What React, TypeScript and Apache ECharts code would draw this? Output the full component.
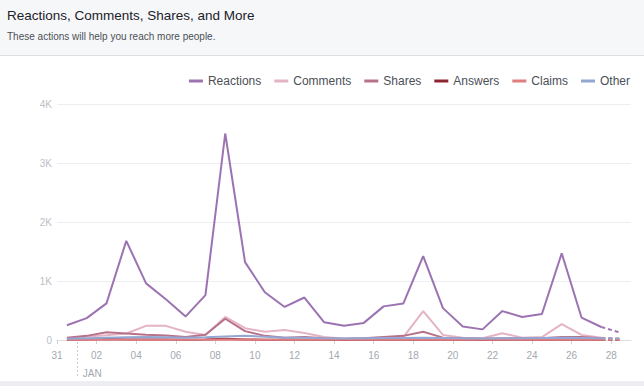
import { useEffect, useRef } from 'react';
import * as echarts from 'echarts';

const dates = [
  'Dec 31', 'Jan 01', 'Jan 02', 'Jan 03', 'Jan 04', 'Jan 05', 'Jan 06', 'Jan 07', 'Jan 08', 'Jan 09',
  'Jan 10', 'Jan 11', 'Jan 12', 'Jan 13', 'Jan 14', 'Jan 15', 'Jan 16', 'Jan 17', 'Jan 18', 'Jan 19',
  'Jan 20', 'Jan 21', 'Jan 22', 'Jan 23', 'Jan 24', 'Jan 25', 'Jan 26', 'Jan 27', 'Jan 28',
];
const tickLabels = ['31', '02', '04', '06', '08', '10', '12', '14', '16', '18', '20', '22', '24', '26', '28'];

const reactions = [250, 370, 620, 1680, 960, 690, 400, 760, 3500, 1320, 810, 560, 720, 300, 240, 290, 570, 620, 1420, 540, 230, 180, 490, 390, 440, 1470, 380, 220, 120];
const comments = [30, 60, 80, 110, 240, 240, 140, 85, 390, 200, 140, 170, 120, 50, 20, 30, 40, 50, 490, 85, 40, 30, 115, 40, 50, 270, 85, 40, 20];
const shares = [40, 70, 130, 110, 90, 75, 50, 90, 360, 150, 70, 40, 50, 30, 20, 30, 50, 70, 140, 40, 30, 20, 30, 30, 30, 50, 50, 30, 20];
const answers = [5, 10, 15, 10, 10, 8, 5, 10, 20, 10, 5, 5, 5, 3, 2, 3, 5, 5, 10, 5, 3, 2, 3, 3, 3, 5, 5, 3, 2];
const claims = [4, 5, 6, 5, 6, 5, 4, 5, 8, 6, 5, 4, 5, 4, 3, 4, 5, 5, 6, 5, 4, 3, 4, 4, 4, 5, 5, 4, 3];
const other = [20, 30, 40, 45, 50, 45, 40, 45, 60, 70, 55, 40, 40, 30, 25, 30, 35, 35, 40, 35, 30, 25, 30, 30, 35, 40, 35, 30, 25];

const seriesNames = ['Reactions', 'Comments', 'Shares', 'Answers', 'Claims', 'Other'];
const seriesColors = ['#9c73b2', '#e4b4c4', '#b8718b', '#8c2431', '#e07d80', '#93a7d2'];

const title = 'Reactions, Comments, Shares, and More';
const subtitle = 'These actions will help you reach more people.';
const monthLabel = 'JAN';

export default function App() {
  const ref = useRef<HTMLDivElement>(null);
  useEffect(() => {
    const chart = echarts.init(ref.current!, null, { renderer: 'svg' });
    const allValues = [reactions, comments, shares, answers, claims, other];
    const series: any[] = [];
    allValues.forEach((vals, k) => {
      const color = seriesColors[k];
      const pts = vals.map((v, i) => [i + 0.5, v]);
      series.push({
        type: 'line', name: seriesNames[k], data: pts.slice(0, pts.length - 1),
        showSymbol: false, symbol: 'none', z: 2 + k,
        lineStyle: { width: 2, color }, itemStyle: { color },
      });
      series.push({
        type: 'line', name: seriesNames[k], data: pts.slice(pts.length - 2),
        showSymbol: false, symbol: 'none', z: 2 + k,
        lineStyle: { width: 2, color, type: [4, 3] }, itemStyle: { color },
      });
    });
    const tickValues = tickLabels.map((_, i) => i * 2);
    chart.setOption({
      animation: false,
      textStyle: { fontFamily: '"Liberation Sans", Arial, Helvetica, sans-serif' },
      title: {
        text: title, subtext: subtitle, left: 7, top: 8, padding: 0, itemGap: 9,
        textStyle: { fontSize: 13.5, fontWeight: 'normal', color: '#1d2129' },
        subtextStyle: { fontSize: 10, color: '#4b4f56' },
      },
      legend: {
        data: seriesNames, right: 14, top: 75, padding: 0, icon: 'rect',
        itemWidth: 14, itemHeight: 3, itemGap: 13,
        textStyle: { fontSize: 12, color: '#4b4f56' },
      },
      grid: { left: 57, right: 13, top: 104, bottom: 46, containLabel: false, outerBoundsMode: 'none' },
      xAxis: {
        type: 'value', min: 0, max: 29,
        axisLine: { show: true, lineStyle: { color: '#dadde1' } },
        axisTick: { show: true, length: 4, customValues: tickValues, lineStyle: { color: '#cfd2d7' } },
        axisLabel: {
          customValues: tickValues, margin: 10, fontSize: 10, color: '#a3a8b0',
          formatter: (v: number) => tickLabels[Math.round(v / 2)] ?? '',
        },
        splitLine: { show: false },
      },
      yAxis: {
        type: 'value', min: 0, max: 4000, interval: 1000,
        axisLine: { show: false }, axisTick: { show: false },
        axisLabel: {
          margin: 5, fontSize: 10, color: '#bcc0c7',
          formatter: (v: number) => (v === 0 ? '0' : v / 1000 + 'K'),
        },
        splitLine: { lineStyle: { color: '#eceef1' } },
      },
      tooltip: { show: false },
      series,
    });
    const jx = chart.convertToPixel({ xAxisIndex: 0 }, 1) as number;
    const y0 = chart.convertToPixel({ yAxisIndex: 0 }, 0) as number;
    chart.setOption({
      graphic: [
        { type: 'rect', z: -10, silent: true, shape: { x: 0, y: 0, width: 644, height: 55 }, style: { fill: '#f6f7f9' } },
        { type: 'line', z: -9, silent: true, shape: { x1: 0, y1: 55.5, x2: 644, y2: 55.5 }, style: { stroke: '#dddfe2', lineWidth: 1 } },
        { type: 'rect', z: -10, silent: true, shape: { x: 0, y: 381, width: 644, height: 5 }, style: { fill: '#eceef1' } },
        { type: 'line', z: -9, silent: true, shape: { x1: Math.round(jx) + 0.5, y1: y0 + 2, x2: Math.round(jx) + 0.5, y2: y0 + 38 }, style: { stroke: '#c8ccd2', lineWidth: 1, lineDash: [2, 2] } },
        { type: 'text', z: 10, silent: true, x: jx + 6, y: y0 + 33, style: { text: monthLabel, fontSize: 10, fill: '#a3a8b0', fontFamily: '"Liberation Sans", Arial, sans-serif', verticalAlign: 'middle' } },
      ],
    });
    return () => chart.dispose();
  }, []);
  return <div ref={ref} style={{ position: 'absolute', left: 0, top: 0, width: 644, height: 386, background: '#ffffff' }} />;
}
